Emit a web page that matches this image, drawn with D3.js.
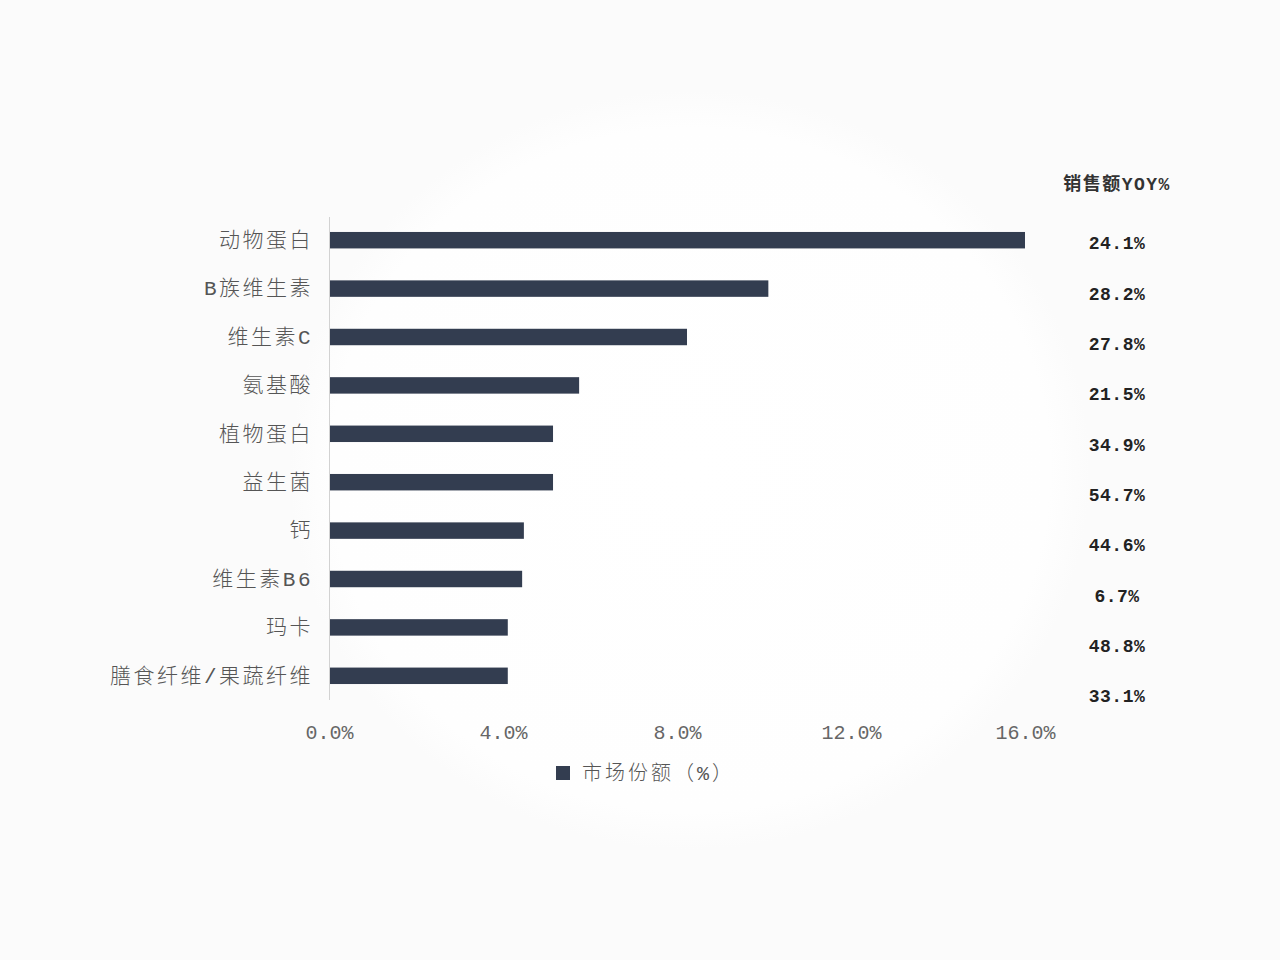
<!DOCTYPE html>
<html>
<head>
<meta charset="utf-8">
<script src="https://cdn.jsdelivr.net/npm/d3@7"></script>
<style>
  html, body { margin: 0; padding: 0; background: #fbfbfb; }
  svg { display: block; }
</style>
</head>
<body>
<div id="chart"></div>
<script>
// Chart data
const categories = ["动物蛋白", "B族维生素", "维生素C", "氨基酸", "植物蛋白", "益生菌", "钙", "维生素B6", "玛卡", "膳食纤维/果蔬纤维"]
const shareValues = [16.0, 10.1, 8.23, 5.75, 5.15, 5.15, 4.48, 4.44, 4.11, 4.11]
const yoyLabels = ["24.1%", "28.2%", "27.8%", "21.5%", "34.9%", "54.7%", "44.6%", "6.7%", "48.8%", "33.1%"]
const xTicks = [0, 4, 8, 12, 16]
const seriesName = "市场份额（%）"
const yoyTitle = "销售额YOY%"

const WIDTH = 1280
const HEIGHT = 960
const PLOT = {LEFT: 329, RIGHT: 1025, TOP: 216, BOTTOM: 700}
const FONT = "'Liberation Mono', 'Noto Sans CJK SC', monospace"
const BAR_COLOR = "#333d50"

let svg = d3.select("#chart").append("svg")
    .attr("width", WIDTH)
    .attr("height", HEIGHT)

// faint round backdrop
let defs = svg.append("defs")
let grad = defs.append("radialGradient").attr("id", "bg")
    .attr("cx", 0.5).attr("cy", 0.5).attr("r", 0.5)
grad.append("stop").attr("offset", "0%").attr("stop-color", "#ffffff")
grad.append("stop").attr("offset", "90%").attr("stop-color", "#fefefe")
grad.append("stop").attr("offset", "100%").attr("stop-color", "#fbfbfb")
svg.append("rect").attr("width", WIDTH).attr("height", HEIGHT).attr("fill", "#fbfbfb")
svg.append("ellipse")
    .attr("cx", 690).attr("cy", 470).attr("rx", 400).attr("ry", 380)
    .attr("fill", "url(#bg)")

let xScale = d3.scaleLinear()
    .domain([0, 16])
    .range([PLOT.LEFT, PLOT.RIGHT])

let yScale = d3.scaleBand()
    .domain(categories)
    .range([PLOT.TOP, PLOT.BOTTOM])
    .paddingInner(0.66)
    .paddingOuter(0.33)

// YOY column sits on its own slightly wider row grid
let yoyScale = d3.scaleBand()
    .domain(categories)
    .range([218, 721])

// bars
svg.selectAll("rect.bar")
    .data(categories)
    .enter()
    .append("rect")
        .attr("class", "bar")
        .attr("x", xScale(0))
        .attr("y", d => yScale(d))
        .attr("height", yScale.bandwidth())
        .attr("width", (d, i) => xScale(shareValues[i]) - xScale(0))
        .style("fill", BAR_COLOR)

// y axis: line + category labels
let yAxis = svg.append("g")
    .attr("transform", "translate(" + PLOT.LEFT + ",0)")
    .call(d3.axisLeft(yScale).tickSize(0).tickPadding(16))
yAxis.select(".domain").attr("stroke", "#d2d2d2").attr("d", "M0.5," + (PLOT.TOP + 1) + "V" + PLOT.BOTTOM)
yAxis.selectAll("text")
    .style("font-family", FONT)
    .style("font-size", "21px")
    .style("font-weight", 300)
    .style("letter-spacing", "2.5px")
    .attr("fill", "#555")

// x axis: labels only
let xAxis = svg.append("g")
    .attr("transform", "translate(0," + PLOT.BOTTOM + ")")
    .call(d3.axisBottom(xScale).tickValues(xTicks).tickSize(0).tickPadding(25)
        .tickFormat(d => d.toFixed(1) + "%"))
xAxis.select(".domain").remove()
xAxis.selectAll("text")
    .style("font-family", FONT)
    .style("font-size", "20px")
    .attr("fill", "#666")

// YOY column
svg.append("text")
    .attr("x", 1117).attr("y", 190)
    .attr("text-anchor", "middle")
    .style("font-family", FONT)
    .style("font-size", "18px")
    .style("font-weight", "bold")
    .style("letter-spacing", "1.5px")
    .attr("fill", "#333")
    .text(yoyTitle)

svg.selectAll("text.yoy")
    .data(categories)
    .enter()
    .append("text")
        .attr("class", "yoy")
        .attr("x", 1117)
        .attr("y", d => yoyScale(d) + yoyScale.bandwidth() / 2)
        .attr("dy", "0.35em")
        .attr("text-anchor", "middle")
        .style("font-family", FONT)
        .style("font-size", "18px")
        .style("font-weight", "bold")
        .style("letter-spacing", "0.5px")
        .attr("fill", "#222")
        .text((d, i) => yoyLabels[i])

// legend
let legend = svg.append("g").attr("transform", "translate(556,766)")
legend.append("rect").attr("width", 14).attr("height", 14).attr("fill", BAR_COLOR)
legend.append("text")
    .attr("x", 26).attr("y", 7).attr("dy", "0.35em")
    .style("font-family", FONT)
    .style("font-size", "20px")
    .style("font-weight", 300)
    .style("letter-spacing", "3px")
    .attr("fill", "#555")
    .text(seriesName)
</script>
</body>
</html>
